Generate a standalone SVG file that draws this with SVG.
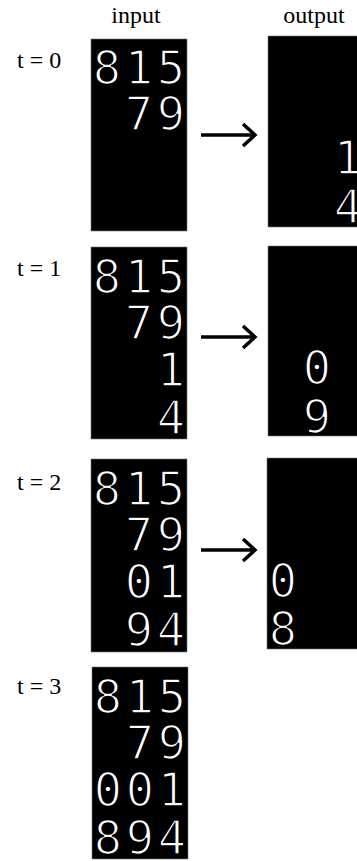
<svg xmlns="http://www.w3.org/2000/svg" width="357" height="861" viewBox="0 0 357 861">
<style>
.lbl{font-family:"Liberation Serif","Times New Roman",serif;font-size:24px;fill:#000}
.box{fill:#000;stroke:#777;stroke-width:0.6}
.d{font-family:"DejaVu Sans Mono",monospace;font-size:47px;fill:#fff;stroke:#000;stroke-width:1.6;text-anchor:middle}
.arr{stroke:#000;stroke-width:3.5;fill:none}
</style>
<defs>
<clipPath id="page"><rect x="0" y="0" width="357" height="861"/></clipPath>
</defs>
<rect width="357" height="861" fill="#fff"/>
<g id="headers">
<text class="lbl" x="136" y="23" text-anchor="middle">input</text>
<text class="lbl" x="314" y="23" text-anchor="middle">output</text>
</g>
<g id="labels">
<text class="lbl" x="17" y="68">t = 0</text>
<text class="lbl" x="17" y="276">t = 1</text>
<text class="lbl" x="17" y="490">t = 2</text>
<text class="lbl" x="17" y="694">t = 3</text>
</g>
<g id="in0">
<rect class="box" x="91" y="39" width="96" height="192"/>
<text class="d" x="107 139 171" y="84">815</text>
<text class="d" x="139 171" y="130">79</text>
</g>
<g id="in1">
<rect class="box" x="91" y="247" width="96" height="192"/>
<text class="d" x="107 139 171" y="293">815</text>
<text class="d" x="139 171" y="339">79</text>
<text class="d" x="171" y="386">1</text>
<text class="d" x="171" y="434">4</text>
</g>
<g id="in2">
<rect class="box" x="91" y="459" width="96" height="193"/>
<text class="d" x="107 139 171" y="505">815</text>
<text class="d" x="139 171" y="551">79</text>
<text class="d" x="139 171" y="598">01</text>
<text class="d" x="139 171" y="646">94</text>
</g>
<g id="in3">
<rect class="box" x="92" y="667" width="96" height="192"/>
<text class="d" x="108 140 172" y="713">815</text>
<text class="d" x="140 172" y="759">79</text>
<text class="d" x="108 140 172" y="806">001</text>
<text class="d" x="108 140 172" y="854">894</text>
</g>
<g id="out0" clip-path="url(#page)">
<rect class="box" x="268" y="36" width="96" height="191"/>
<text class="d" x="348" y="174">1</text>
<text class="d" x="348" y="223">4</text>
</g>
<g id="out1" clip-path="url(#page)">
<rect class="box" x="268" y="246" width="96" height="190"/>
<text class="d" x="317" y="384">0</text>
<text class="d" x="317" y="433">9</text>
</g>
<g id="out2" clip-path="url(#page)">
<rect class="box" x="267" y="458" width="96" height="191"/>
<text class="d" x="283" y="597">0</text>
<text class="d" x="283" y="645">8</text>
</g>
<g id="connectors">
<path class="arr" d="M201 135H254M243 124L255 135L243 146"/>
<path class="arr" d="M201 337H254M243 326L255 337L243 348"/>
<path class="arr" d="M201 550H254M243 539L255 550L243 561"/>
</g>
</svg>
